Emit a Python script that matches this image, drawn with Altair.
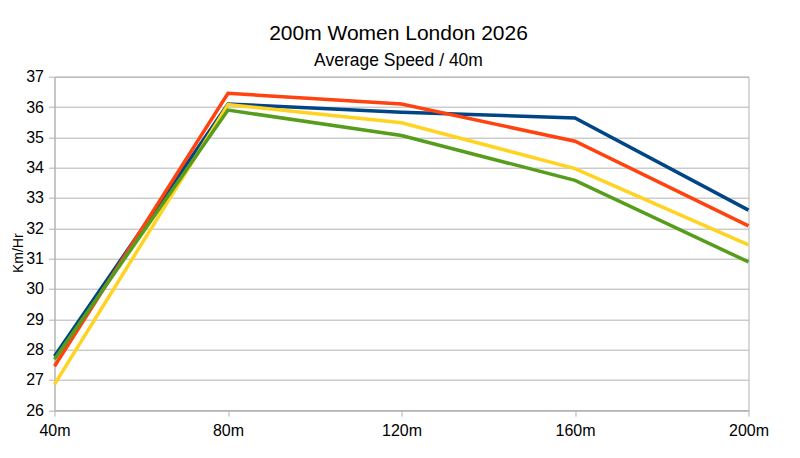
import altair as alt
import pandas as pd

splits = ["40m", "80m", "120m", "160m", "200m"]
series_names = ["Runner 1", "Runner 2", "Runner 3", "Runner 4"]
runner1 = [27.78, 36.10, 35.83, 35.64, 32.60]
runner2 = [27.45, 36.45, 36.10, 34.87, 32.08]
runner3 = [26.85, 36.08, 35.48, 33.97, 31.45]
runner4 = [27.68, 35.90, 35.06, 33.58, 30.89]
y_ticks = list(range(26, 38))
colors = ["#004586", "#ff420e", "#ffd320", "#579d1c"]

rows = []
for name, vals in zip(series_names, [runner1, runner2, runner3, runner4]):
    for s, v in zip(splits, vals):
        rows.append({"split": s, "series": name, "speed": v})
df = pd.DataFrame(rows)

FONT = "Liberation Sans"
GRID = "#b3b3b3"

chart = alt.Chart(df).mark_line(strokeWidth=3.5).encode(
    x=alt.X(
        "split:O",
        sort=splits,
        scale=alt.Scale(type="point", padding=0),
        axis=alt.Axis(
            title=None, labelAngle=0, grid=False, domainColor=GRID, tickColor=GRID,
            tickSize=6, labelFont=FONT, labelFontSize=16, labelColor="#000000",
            labelPadding=6,
        ),
    ),
    y=alt.Y(
        "speed:Q",
        scale=alt.Scale(domain=[26, 37], nice=False, zero=False),
        axis=alt.Axis(
            title="Km/Hr", values=y_ticks, grid=True, gridColor=GRID, domainColor=GRID,
            tickColor=GRID, tickSize=6, labelFont=FONT, labelFontSize=16,
            labelColor="#000000", labelPadding=5,
            titleFont=FONT, titleFontSize=14, titleFontWeight="normal", titleColor="#000000",
            titleAngle=-90, titleBaseline="alphabetic", titleX=-32, titleY=176,
            titleAlign="center",
        ),
    ),
    color=alt.Color("series:N", scale=alt.Scale(domain=series_names, range=colors), legend=None),
).properties(
    width=694,
    height=333.5,
    title=alt.TitleParams(
        text="200m Women London 2026",
        subtitle="Average Speed / 40m",
        font=FONT, fontSize=21, fontWeight="normal", color="#000000",
        subtitleFont=FONT, subtitleFontSize=17.5, subtitleColor="#000000",
        anchor="middle", offset=-1, subtitlePadding=8, dx=-3,
    ),
    padding={"left": 46.5, "top": 68.7, "right": 43, "bottom": 38},
    autosize="none",
).configure_view(stroke=GRID, strokeWidth=1)

chart.save("out.html", embed_options={"renderer": "svg", "actions": False})
